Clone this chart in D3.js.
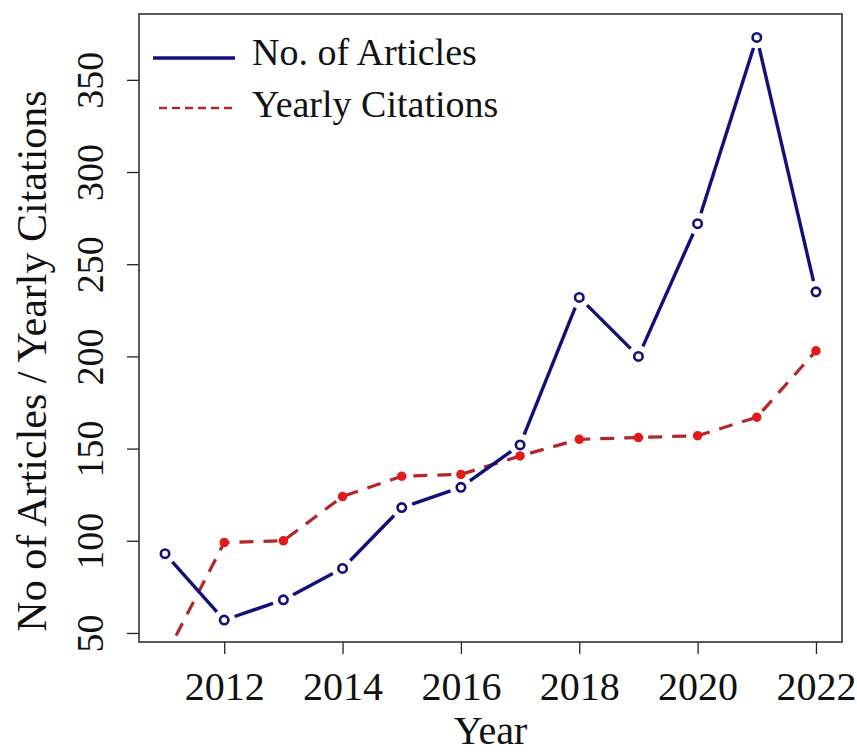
<!DOCTYPE html>
<html><head><meta charset="utf-8">
<script src="https://cdn.jsdelivr.net/npm/d3@7"></script>
<style>body{margin:0;background:#fff}svg{display:block}
svg text{font-family:"Liberation Serif","Times New Roman",Times,serif;}</style>
</head><body>
<svg id="c" width="857" height="754"></svg>
<script>
const years = [2011,2012,2013,2014,2015,2016,2017,2018,2019,2020,2021,2022];
const articles = [93,57,68,85,118,129,152,232,200,272,373,235];
const citations = [37,99,100,124,135,136,146,155,156,157,167,203];
const xTicks = [2012,2014,2016,2018,2020,2022];
const yTicks = [50,100,150,200,250,300,350];
const seriesNames = ["No. of Articles","Yearly Citations"];

const svg = d3.select("#c");
const L=139,R=842,T=14,B=642;
const x = d3.scaleLinear().domain([2010.56,2022.44]).range([L,R]);
const y = d3.scaleLinear().domain([45.1,385.7]).range([B,T]);
const blue="#10107a", redLine="#b3262a", redPt="#e31a1c";

svg.append("clipPath").attr("id","clip").append("rect")
  .attr("x",L).attr("y",T).attr("width",R-L).attr("height",B-T);

// axes
const xa = svg.append("g").attr("transform",`translate(0,${B})`)
  .call(d3.axisBottom(x).tickValues(xTicks).tickSize(12).tickFormat(d3.format("d")));
xa.select(".domain").remove();
xa.selectAll("line").attr("stroke","#222").attr("stroke-width",1.3);
xa.selectAll("text").attr("font-family",null).attr("font-size",40).attr("fill","#111")
  .attr("y",58).attr("dy",0);

const ya = svg.append("g").attr("transform",`translate(${L},0)`)
  .call(d3.axisLeft(y).tickValues(yTicks).tickSize(12));
ya.select(".domain").remove();
ya.selectAll("line").attr("stroke","#222").attr("stroke-width",1.3);
ya.selectAll("text").attr("font-family",null).attr("font-size",38).attr("fill","#111")
  .attr("x",0).attr("y",-36).attr("dy",0).attr("text-anchor","middle")
  .attr("transform","rotate(-90)");
xa.attr("font-family",null); ya.attr("font-family",null);

// box
svg.append("rect").attr("x",L).attr("y",T).attr("width",R-L).attr("height",B-T)
  .attr("fill","none").attr("stroke","#333").attr("stroke-width",1.6);

// titles
svg.append("text").attr("x",(L+R)/2).attr("y",744).attr("text-anchor","middle")
  .attr("font-size",40).attr("fill","#111").text("Year");
svg.append("text").attr("transform","translate(46,361) rotate(-90)").attr("text-anchor","middle")
  .attr("font-size",42).attr("fill","#111")
  .text("No of Articles / Yearly Citations");

const plot = svg.append("g").attr("clip-path","url(#clip)");

// citations: dashed line through points
const cData = years.map((yr,i)=>[yr,citations[i]]);
plot.append("path").datum(cData)
  .attr("d",d3.line().x(d=>x(d[0])).y(d=>y(d[1])))
  .attr("fill","none").attr("stroke",redLine).attr("stroke-width",3.2)
  .attr("stroke-dasharray","14,10");
plot.selectAll(".cp").data(cData).join("circle").attr("class","cp")
  .attr("cx",d=>x(d[0])).attr("cy",d=>y(d[1])).attr("r",4)
  .attr("fill",redPt).attr("stroke",redPt).attr("stroke-width",1.5);

// articles: segments with gaps (type "b")
const aData = years.map((yr,i)=>[yr,articles[i]]);
const gap = 11;
const segs = d3.pairs(aData).map(([a,b])=>{
  const x1=x(a[0]),y1=y(a[1]),x2=x(b[0]),y2=y(b[1]);
  const len=Math.hypot(x2-x1,y2-y1), ux=(x2-x1)/len, uy=(y2-y1)/len;
  return [x1+ux*gap,y1+uy*gap,x2-ux*gap,y2-uy*gap];
});
plot.selectAll(".as").data(segs).join("line").attr("class","as")
  .attr("x1",d=>d[0]).attr("y1",d=>d[1]).attr("x2",d=>d[2]).attr("y2",d=>d[3])
  .attr("stroke",blue).attr("stroke-width",3.4);
plot.selectAll(".ap").data(aData).join("circle").attr("class","ap")
  .attr("cx",d=>x(d[0])).attr("cy",d=>y(d[1])).attr("r",4.2)
  .attr("fill","#fff").attr("stroke",blue).attr("stroke-width",2.6);

// legend
const lg = svg.append("g");
lg.append("line").attr("x1",153).attr("x2",235).attr("y1",58).attr("y2",58)
  .attr("stroke",blue).attr("stroke-width",3.4);
lg.append("line").attr("x1",159).attr("x2",235).attr("y1",108).attr("y2",108)
  .attr("stroke",redLine).attr("stroke-width",2.4).attr("stroke-dasharray","8,5");
lg.append("text").attr("x",252).attr("y",65).attr("font-size",38)
  .attr("fill","#111").text(seriesNames[0]);
lg.append("text").attr("x",252).attr("y",117).attr("font-size",38)
  .attr("fill","#111").text(seriesNames[1]);
</script>
</body></html>
